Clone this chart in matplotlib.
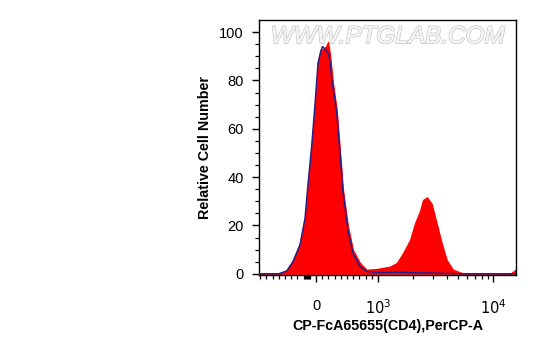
import numpy as np
import matplotlib.pyplot as plt
import matplotlib.patheffects as pe

plt.rcParams['font.family'] = ['Liberation Sans', 'DejaVu Sans']

# Sample (CD4 stained) histogram, red fill
sample_x = [-920, -581, -473, -371, -258, -177, -129, -69, -16, 32, 76, 113, 161,
            194, 226, 274, 334, 387, 435, 516, 597, 710, 818, 979, 1271, 1455,
            1650, 1897, 2098, 2318, 2462, 2667, 2930, 3238, 3580, 3958, 4487,
            5483, 14060, 15540, 15850]
sample_y = [0, 0, 1.6, 5.8, 12.8, 23.7, 37.6, 54, 70.7, 88, 92.6, 93, 94,
            96, 91, 79, 68, 51, 35, 19.6, 9.9, 4.5, 1.7, 2, 3, 4.5,
            8.6, 14, 21, 26, 30.6, 31.7, 29, 21, 12.8, 5.8, 1.7,
            0.2, 0, 1.5, 2]

# Control histogram, dark blue outline
ctrl_x = [-920, -600, -470, -371, -258, -177, -129, -69, -16, 32, 76, 105, 145,
          200, 226, 260, 274, 334, 387, 435, 516, 597, 710, 818, 1000, 1500,
          3000, 5000, 15850]
ctrl_y = [0, 0, 1.2, 5, 12, 23, 37, 53, 70, 87, 92, 94, 93,
          91, 88, 79, 77, 67, 50, 34, 18, 8.5, 3, 1, 0.5, 0.6,
          0.3, 0, 0]

xticks = [0, 1000, 10000]
xticklabels = ['0', '$10^3$', '$10^4$']
yticks = [0, 20, 40, 60, 80, 100]

fig = plt.figure(figsize=(5.37, 3.56), dpi=100)
ax = fig.add_axes([0.4823, 0.2275, 0.4786, 0.7163])
ax.set_xscale('symlog', linthresh=1000, linscale=0.485, base=10)

ax.fill_between(sample_x, sample_y, 0, color='#ff0000', lw=0.8, zorder=2)
ax.plot(ctrl_x, ctrl_y, color='#2a1f86', lw=1.1, zorder=3)

ax.set_xlim(-920, 15850)
ax.set_ylim(-0.5, 105)

ax.set_xticks(xticks)
ax.set_xticklabels(xticklabels)
minor = list(range(-900, 0, 100)) + list(range(100, 1000, 100)) + \
    list(range(2000, 10000, 1000)) + [-180, -165, -150, -135, -120]
ax.set_xticks(minor, minor=True)
ax.set_yticks(yticks)
ax.set_yticks(np.arange(0, 105, 5), minor=True)

ax.tick_params(axis='both', which='major', direction='out', length=5, width=1,
               labelsize=10.5, colors='black')
ax.tick_params(axis='x', which='major', pad=12)
ax.tick_params(axis='y', which='major', pad=6)
ax.tick_params(axis='both', which='minor', direction='out', length=3, width=0.9)
for sp in ax.spines.values():
    sp.set_linewidth(1.0)

ax.set_ylabel('Relative Cell Number', fontsize=10.3, fontweight='bold', labelpad=5)
ax.set_xlabel('CP-FcA65655(CD4),PerCP-A', fontsize=10.3, fontweight='bold', labelpad=1)

ax.text(0.5, 0.935, 'WWW.PTGLAB.COM', transform=ax.transAxes, ha='center',
        va='center', fontsize=17.5, style='italic', color='#f4f4f4', zorder=5,
        path_effects=[pe.withStroke(linewidth=1.2, foreground='#c8c8c8'),
                      pe.Normal()])

fig.savefig('out.png', dpi=100)
